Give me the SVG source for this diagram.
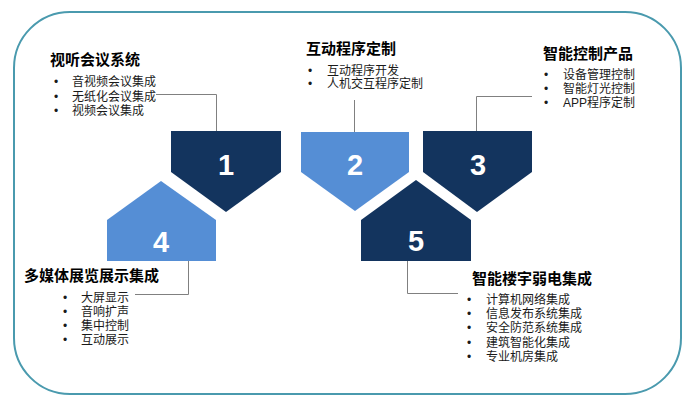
<svg xmlns="http://www.w3.org/2000/svg" width="693" height="405" viewBox="0 0 693 405">
<style>
.frame{fill:#fff;stroke:#4A9AAE;stroke-width:2}
.dark{fill:#13345E}
.light{fill:#558ED5}
.num{font-family:"Liberation Sans",Arial,sans-serif;font-weight:700;font-size:29px;fill:#fff;text-anchor:middle}
.title{font-family:"Noto Sans CJK SC","Liberation Sans",sans-serif;font-weight:700;font-size:15px;fill:#000}
.item{font-family:"Liberation Sans","Noto Sans CJK SC",sans-serif;font-size:12px;fill:#1a1a1a}
.conn{fill:none;stroke:#808080;stroke-width:1}
</style>
<rect class="frame" x="14" y="12" width="667" height="382" rx="56" ry="56"/>
<g id="connectors">
<polyline class="conn" points="156,94.5 216.5,94.5 216.5,131"/>
<polyline class="conn" points="354.5,100 354.5,132"/>
<polyline class="conn" points="532,96.5 476.5,96.5 476.5,131"/>
<polyline class="conn" points="135,294.5 188.5,294.5 188.5,261"/>
<polyline class="conn" points="458,293.5 407.5,293.5 407.5,261"/>
</g>
<g id="node1">
<polygon class="dark" points="171,131 281,131 281,172 226,212 171,172"/>
<text class="num" x="226" y="175">1</text>
<text class="title" x="50" y="65">视听会议系统</text>
<text class="item" x="54" y="86">•</text><text class="item" x="72" y="86">音视频会议集成</text>
<text class="item" x="54" y="100.5">•</text><text class="item" x="72" y="100.5">无纸化会议集成</text>
<text class="item" x="54" y="115">•</text><text class="item" x="72" y="115">视频会议集成</text>
</g>
<g id="node2">
<polygon class="light" points="301,132 409,132 409,172 355,211 301,172"/>
<text class="num" x="355" y="175">2</text>
<text class="title" x="306" y="54">互动程序定制</text>
<text class="item" x="308" y="74.5">•</text><text class="item" x="327" y="74.5">互动程序开发</text>
<text class="item" x="308" y="88">•</text><text class="item" x="327" y="88">人机交互程序定制</text>
</g>
<g id="node3">
<polygon class="dark" points="423,131 532,131 532,172 477,212 423,172"/>
<text class="num" x="478" y="175">3</text>
<text class="title" x="543" y="59">智能控制产品</text>
<text class="item" x="544" y="78.5">•</text><text class="item" x="563" y="78.5">设备管理控制</text>
<text class="item" x="544" y="93">•</text><text class="item" x="563" y="93">智能灯光控制</text>
<text class="item" x="544" y="107">•</text><text class="item" x="563" y="107">APP程序定制</text>
</g>
<g id="node4">
<polygon class="light" points="107,261 107,220 161,181 216,220 216,261"/>
<text class="num" x="161" y="252">4</text>
<text class="title" x="24" y="281">多媒体展览展示集成</text>
<text class="item" x="63" y="302">•</text><text class="item" x="81" y="302">大屏显示</text>
<text class="item" x="63" y="316">•</text><text class="item" x="81" y="316">音响扩声</text>
<text class="item" x="63" y="330">•</text><text class="item" x="81" y="330">集中控制</text>
<text class="item" x="63" y="344">•</text><text class="item" x="81" y="344">互动展示</text>
</g>
<g id="node5">
<polygon class="dark" points="361,261 361,220 416,180 471,220 471,261"/>
<text class="num" x="416" y="251">5</text>
<text class="title" x="472" y="284">智能楼宇弱电集成</text>
<text class="item" x="467" y="304">•</text><text class="item" x="486" y="304">计算机网络集成</text>
<text class="item" x="467" y="318">•</text><text class="item" x="486" y="318">信息发布系统集成</text>
<text class="item" x="467" y="332">•</text><text class="item" x="486" y="332">安全防范系统集成</text>
<text class="item" x="467" y="346.5">•</text><text class="item" x="486" y="346.5">建筑智能化集成</text>
<text class="item" x="467" y="360.5">•</text><text class="item" x="486" y="360.5">专业机房集成</text>
</g>
</svg>
